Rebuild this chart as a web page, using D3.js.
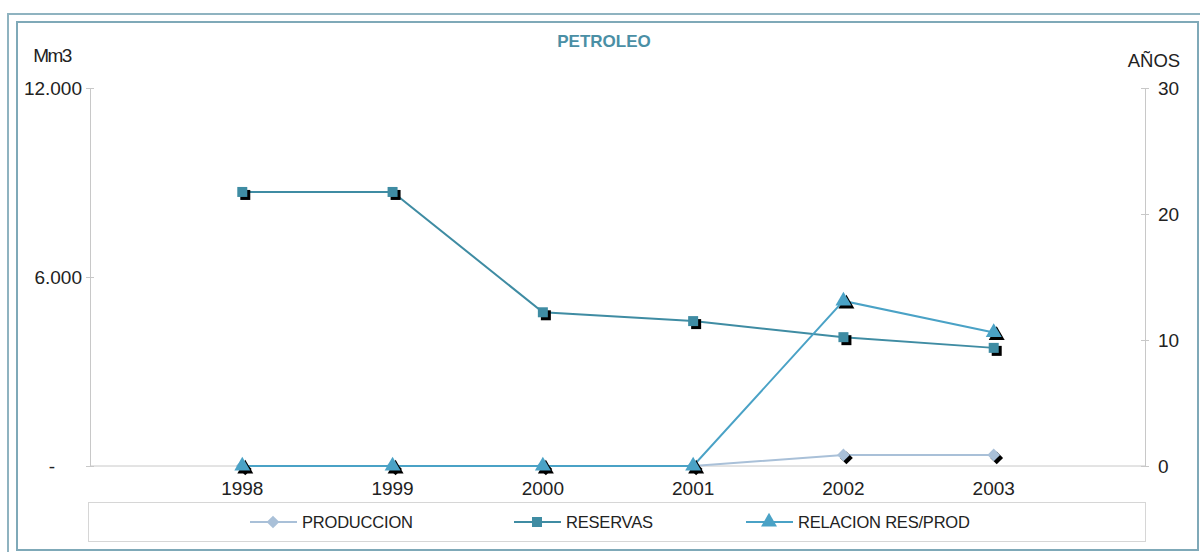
<!DOCTYPE html>
<html>
<head>
<meta charset="utf-8">
<script src="https://cdn.jsdelivr.net/npm/d3@7"></script>
<style>
  html, body { margin: 0; padding: 0; background: #fff; }
  svg { display: block; font-family: "Liberation Sans", Arial, sans-serif; }
</style>
</head>
<body>
<svg id="chart" width="1200" height="552"></svg>
<script>
// Oil: production, reserves (Mm3) and reserves/production ratio (years)
const years = [1998, 1999, 2000, 2001, 2002, 2003];
const produccion = [0, 0, 0, 0, 350, 350];
const reservas = [8700, 8700, 4880, 4600, 4090, 3750];
const relacion = [0, 0, 0, 0, 13.1, 10.6];

const leftTicks = [0, 6000, 12000];
const leftTickLabels = ["-", "6.000", "12.000"];
const rightTicks = [0, 10, 20, 30];

const svg = d3.select("#chart");
const font = "Liberation Sans, Arial, sans-serif";

// double frame
svg.append("rect").attr("x", 8).attr("y", 14).attr("width", 1200).attr("height", 600)
  .attr("fill", "none").attr("stroke", "#8fb3c0").attr("stroke-width", 2);
svg.append("rect").attr("x", 17).attr("y", 22).attr("width", 1181).attr("height", 528)
  .attr("fill", "#fff").attr("stroke", "#7fa9b8").attr("stroke-width", 2);

const plot = { left: 90, right: 1145, top: 88, bottom: 466 };

const x = d3.scaleLinear().domain([1997, 2004]).range([plot.left + 2, plot.right - 1]);
const yL = d3.scaleLinear().domain([0, 12000]).range([plot.bottom, plot.top]);
const yR = d3.scaleLinear().domain([0, 30]).range([plot.bottom, plot.top]);

const axisColor = "#c8c8c8";

// left axis
const leftAxis = d3.axisLeft(yL).tickValues(leftTicks)
  .tickFormat((d, i) => leftTickLabels[i]).tickSizeInner(6).tickSizeOuter(0).tickPadding(2);
const gL = svg.append("g").attr("transform", `translate(${plot.left},0)`).call(leftAxis);
gL.select(".domain").attr("stroke", axisColor);
gL.selectAll(".tick line").attr("stroke", axisColor).attr("x2", 4).attr("x1", -4);
gL.selectAll(".tick text").attr("font-size", 19).attr("fill", "#222")
  .attr("font-family", font)
  .attr("dx", d => d === 0 ? -27 : 0);

// right axis
const rightAxis = d3.axisRight(yR).tickValues(rightTicks)
  .tickSizeInner(6).tickSizeOuter(0).tickPadding(7);
const gR = svg.append("g").attr("transform", `translate(${plot.right},0)`).call(rightAxis);
gR.select(".domain").attr("stroke", axisColor);
gR.selectAll(".tick line").attr("stroke", axisColor).attr("x1", -4).attr("x2", 4);
gR.selectAll(".tick text").attr("font-size", 19).attr("fill", "#222")
  .attr("font-family", font);

// category axis along zero
svg.append("line").attr("x1", plot.left).attr("x2", plot.right)
  .attr("y1", plot.bottom).attr("y2", plot.bottom).attr("stroke", axisColor);
svg.append("g").selectAll("text").data(years).join("text")
  .attr("x", d => x(d)).attr("y", plot.bottom + 29)
  .attr("text-anchor", "middle").attr("font-size", 19).attr("fill", "#222")
  .text(d => d);

// axis titles and chart title
svg.append("text").attr("x", 52).attr("y", 62).attr("text-anchor", "middle")
  .attr("font-size", 19).attr("fill", "#222").attr("letter-spacing", -1.5).text("Mm3");
svg.append("text").attr("x", 1154).attr("y", 67).attr("text-anchor", "middle")
  .attr("font-size", 18.5).attr("fill", "#222").text("AÑOS");
svg.append("text").attr("x", 604).attr("y", 47).attr("text-anchor", "middle")
  .attr("font-size", 17).attr("font-weight", "bold").attr("fill", "#4a8fa5")
  .text("PETROLEO");

const series = [
  { name: "PRODUCCION", values: produccion, y: yL, color: "#a9c0d8", marker: "diamond", width: 2 },
  { name: "RESERVAS", values: reservas, y: yL, color: "#3f8ca3", marker: "square", width: 2 },
  { name: "RELACION RES/PROD", values: relacion, y: yR, color: "#4aa2c6", marker: "triangle", width: 2 }
];

function markerPath(kind) {
  if (kind === "diamond") {
    // a square turned 45 degrees
    return d3.symbol().type(d3.symbolSquare).size(81)();
  }
  const t = kind === "square" ? d3.symbolSquare : d3.symbolTriangle;
  return d3.symbol().type(t).size(kind === "square" ? 100 : 110)();
}

function drawMarker(g, kind, cx, cy, color, shadow) {
  const d = markerPath(kind);
  const rot = kind === "diamond" ? " rotate(45)" : "";
  if (shadow) {
    g.append("path").attr("d", d).attr("fill", "#000")
      .attr("transform", `translate(${cx + 3},${cy + 3})${rot}`);
  }
  g.append("path").attr("d", d).attr("fill", color)
    .attr("transform", `translate(${cx},${cy})${rot}`);
}

series.forEach(s => {
  const line = d3.line().x((d, i) => x(years[i])).y(d => s.y(d));
  svg.append("path").datum(s.values).attr("d", line)
    .attr("fill", "none").attr("stroke", s.color).attr("stroke-width", s.width);
  const g = svg.append("g");
  s.values.forEach((v, i) => drawMarker(g, s.marker, x(years[i]), s.y(v), s.color, true));
});

// legend
svg.append("rect").attr("x", 88.5).attr("y", 502.5).attr("width", 1057).attr("height", 39)
  .attr("fill", "#fff").attr("stroke", "#d6d6d6");
const legendX = [250, 514, 746];
series.forEach((s, i) => {
  const g = svg.append("g").attr("transform", `translate(${legendX[i]},522)`);
  g.append("line").attr("x1", 0).attr("x2", 47).attr("stroke", s.color).attr("stroke-width", 2);
  drawMarker(g, s.marker, 23, 0, s.color, false);
  g.append("text").attr("x", 52).attr("y", 6).attr("font-size", 16.5)
    .attr("fill", "#222").attr("letter-spacing", -0.2).text(s.name);
});
</script>
</body>
</html>
